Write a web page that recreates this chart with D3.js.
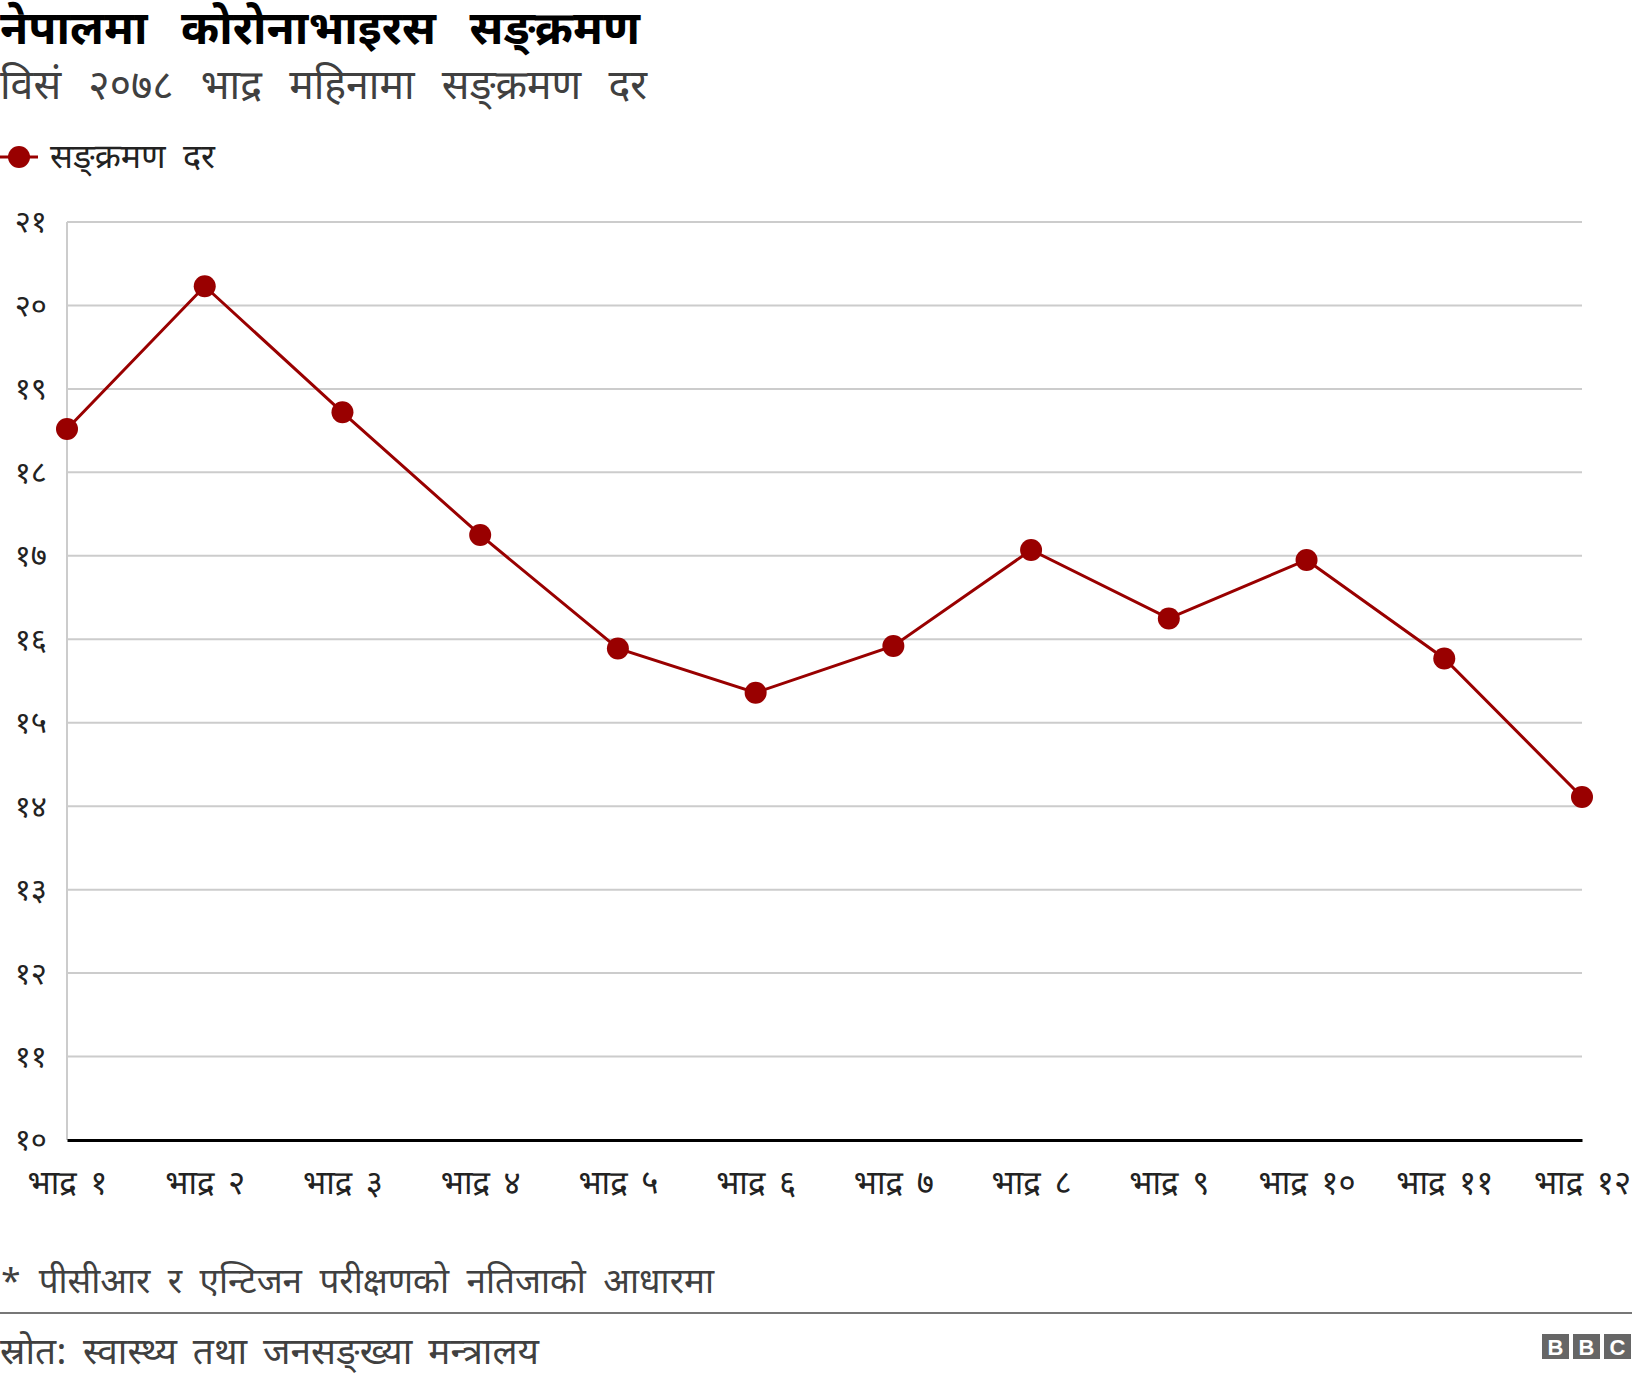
<!DOCTYPE html>
<html>
<head>
<meta charset="utf-8">
<script src="https://cdn.jsdelivr.net/npm/d3@7"></script>
<style>
  body { margin: 0; background: #fff; }
  text { font-family: "Noto Sans Devanagari", "Noto Sans", sans-serif; }
</style>
</head>
<body>
<div class="canvas"></div>
<script>
// data
var days = ["भाद्र १", "भाद्र २", "भाद्र ३", "भाद्र ४", "भाद्र ५", "भाद्र ६",
            "भाद्र ७", "भाद्र ८", "भाद्र ९", "भाद्र १०", "भाद्र ११", "भाद्र १२"];
var rates = [18.52, 20.23, 18.72, 17.25, 15.89, 15.36, 15.92, 17.07, 16.25, 16.95, 15.77, 14.11];
var yTicks = [10, 11, 12, 13, 14, 15, 16, 17, 18, 19, 20, 21];
var yTickLabels = ["१०", "११", "१२", "१३", "१४", "१५", "१६", "१७", "१८", "१९", "२०", "२१"];

var W = 1632, H = 1380;
var plot = {left: 67, right: 1582, top: 222, bottom: 1140};
var red = "#990000";

var svg = d3.select(".canvas")
    .append("svg")
    .attr("width", W)
    .attr("height", H);

// the reference font sets words far apart; widen the gaps to the same overall width
function fitWidth(sel, target) {
    sel.each(function() {
        var node = this;
        var spaces = (node.textContent.match(/ /g) || []).length;
        if (!spaces) return;
        var w = node.getComputedTextLength();
        var extra = Math.max(0, (target - w) / spaces);
        d3.select(node).style("word-spacing", extra + "px");
    });
}

// title block
svg.append("text")
    .attr("x", 0).attr("y", 44)
    .text("नेपालमा कोरोनाभाइरस सङ्क्रमण")
    .style("font-size", "46px")
    .style("font-weight", "bold")
    .style("fill", "#000")
    .call(fitWidth, 640);

svg.append("text")
    .attr("x", 0).attr("y", 99)
    .text("विसं २०७८ भाद्र महिनामा सङ्क्रमण दर")
    .style("font-size", "41px")
    .style("fill", "#404040")
    .call(fitWidth, 647);

// legend
var leg = svg.append("g").attr("transform", "translate(0,157)");
leg.append("line")
    .attr("x1", 0).attr("x2", 38)
    .attr("stroke", red).attr("stroke-width", 3);
leg.append("circle")
    .attr("cx", 19).attr("r", 11)
    .attr("fill", red);
leg.append("text")
    .attr("x", 50).attr("y", 11)
    .text("सङ्क्रमण दर")
    .style("font-size", "34px")
    .style("fill", "#222")
    .call(fitWidth, 165);

// scales
var x = d3.scalePoint()
    .domain(days)
    .range([plot.left, plot.right]);

var y = d3.scaleLinear()
    .domain([10, 21])
    .range([plot.bottom, plot.top]);

// gridlines
svg.append("g")
    .selectAll("line")
    .data(yTicks.filter(function(d) { return d > 10; }))
    .enter()
    .append("line")
        .attr("x1", plot.left)
        .attr("x2", plot.right)
        .attr("y1", function(d) { return y(d); })
        .attr("y2", function(d) { return y(d); })
        .attr("stroke", "#cccccc")
        .attr("stroke-width", 2);

// left axis line
svg.append("line")
    .attr("x1", plot.left).attr("x2", plot.left)
    .attr("y1", plot.top).attr("y2", plot.bottom)
    .attr("stroke", "#cccccc")
    .attr("stroke-width", 2);

// Y axis labels
var yAxis = svg.append("g")
    .attr("transform", "translate(47,0)")
    .call(d3.axisLeft(y)
        .tickValues(yTicks)
        .tickSize(0)
        .tickPadding(0)
        .tickFormat(function(d, i) { return yTickLabels[i]; }));
yAxis.select(".domain").remove();
yAxis.selectAll("text")
    .style("font-size", "31px")
    .style("fill", "#222");

// X axis
var xAxis = svg.append("g")
    .attr("transform", "translate(0," + plot.bottom + ")")
    .call(d3.axisBottom(x).tickSize(0).tickPadding(31));
xAxis.select(".domain")
    .attr("stroke", "#000")
    .attr("stroke-width", 3);
xAxis.selectAll("text")
    .style("font-size", "33px")
    .style("fill", "#222")
    .style("word-spacing", "5px");

// line
var line = d3.line()
    .x(function(d, i) { return x(days[i]); })
    .y(function(d) { return y(d); });

svg.append("path")
    .datum(rates)
    .attr("d", line)
    .attr("fill", "none")
    .attr("stroke", red)
    .attr("stroke-width", 3);

// points
svg.selectAll("mycircle")
    .data(rates)
    .enter()
    .append("circle")
        .attr("cx", function(d, i) { return x(days[i]); })
        .attr("cy", function(d) { return y(d); })
        .attr("r", 11)
        .attr("fill", red);

// footnote + source
svg.append("text")
    .attr("x", 0).attr("y", 1293)
    .text("* पीसीआर र एन्टिजन परीक्षणको नतिजाको आधारमा")
    .style("font-size", "35px")
    .style("fill", "#404040")
    .call(fitWidth, 714);

svg.append("line")
    .attr("x1", 0).attr("x2", W)
    .attr("y1", 1313).attr("y2", 1313)
    .attr("stroke", "#777")
    .attr("stroke-width", 2);

svg.append("text")
    .attr("x", 0).attr("y", 1364)
    .text("स्रोत: स्वास्थ्य तथा जनसङ्ख्या मन्त्रालय")
    .style("font-size", "37px")
    .style("fill", "#404040")
    .call(fitWidth, 539);

// BBC blocks
var bbc = svg.append("g").attr("transform", "translate(1542,1334)");
["B", "B", "C"].forEach(function(ch, i) {
    bbc.append("rect")
        .attr("x", i * 31).attr("y", 0)
        .attr("width", 27).attr("height", 25)
        .attr("fill", "#666");
    bbc.append("text")
        .attr("x", i * 31 + 13.5).attr("y", 21)
        .attr("text-anchor", "middle")
        .text(ch)
        .style("font-family", "Arial, 'Liberation Sans', sans-serif")
        .style("font-weight", "bold")
        .style("font-size", "22px")
        .style("fill", "#fff");
});
</script>
</body>
</html>
